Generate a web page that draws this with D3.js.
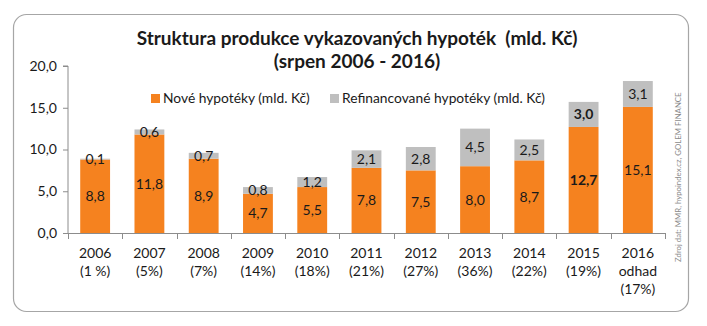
<!DOCTYPE html>
<html>
<head>
<meta charset="utf-8">
<title>Struktura produkce vykazovaných hypoték</title>
<script src="https://d3js.org/d3.v7.min.js"></script>
<style>
  body { margin: 0; background: #fff; font-family: Lato, "Open Sans", sans-serif; }
  svg { display: block; }
</style>
</head>
<body>
<script>
// data
var years = ["2006", "2007", "2008", "2009", "2010", "2011", "2012", "2013", "2014", "2015", "2016"];
var subLabels = [["(1 %)"], ["(5%)"], ["(7%)"], ["(14%)"], ["(18%)"], ["(21%)"], ["(27%)"], ["(36%)"], ["(22%)"], ["(19%)"], ["odhad", "(17%)"]];
var nove = [8.8, 11.8, 8.9, 4.7, 5.5, 7.8, 7.5, 8.0, 8.7, 12.7, 15.1];
var refi = [0.1, 0.6, 0.7, 0.8, 1.2, 2.1, 2.8, 4.5, 2.5, 3.0, 3.1];
var yTicks = [0, 5, 10, 15, 20];
var boldYear = "2015";

var W = 707, H = 326;
var orange = "#F5821F", grey = "#BFBFBF", txt = "#1a1a1a", axisCol = "#8c8c8c";
var fmt = function(v) { return d3.format(".1f")(v).replace(".", ","); };

var svg = d3.select("body").append("svg").attr("width", W).attr("height", H);

// outer frame
svg.append("rect").attr("x", 13.5).attr("y", 14.5).attr("width", 675).attr("height", 297)
  .attr("rx", 13).attr("fill", "#fff").attr("stroke", "#a6a6a6").attr("stroke-width", 1.2);

// title
svg.append("text").attr("x", 357).attr("y", 45).attr("text-anchor", "middle")
  .attr("font-size", 19).attr("font-weight", "bold").attr("fill", txt)
  .style("white-space", "pre")
  .text("Struktura produkce vykazovaných hypoték  (mld. Kč)");
svg.append("text").attr("x", 357).attr("y", 68).attr("text-anchor", "middle")
  .attr("font-size", 19).attr("font-weight", "bold").attr("fill", txt)
  .text("(srpen 2006 - 2016)");

var x = d3.scaleBand().domain(years).range([68, 665]).paddingInner(0.45).paddingOuter(0.225);
var y = d3.scaleLinear().domain([0, 20]).range([233, 66]);

// y axis
var yAxis = svg.append("g").attr("transform", "translate(68,0)")
  .call(d3.axisLeft(y).tickValues(yTicks).tickSize(5).tickPadding(6).tickFormat(fmt));
yAxis.select(".domain").attr("stroke", axisCol).attr("d", "M-5," + y(20) + "H0V" + y(0));
yAxis.selectAll(".tick line").attr("stroke", axisCol);
yAxis.selectAll(".tick text").attr("font-family", "Lato, sans-serif").attr("font-size", 14).attr("fill", txt);

// bars
var rows = years.map(function(yr, i) { return { yr: yr, n: nove[i], r: refi[i] }; });
var g = svg.append("g");
g.selectAll(".n").data(rows).enter().append("rect")
  .attr("x", function(d) { return x(d.yr); })
  .attr("width", x.bandwidth())
  .attr("y", function(d) { return y(d.n); })
  .attr("height", function(d) { return y(0) - y(d.n); })
  .attr("fill", orange);
g.selectAll(".r").data(rows).enter().append("rect")
  .attr("x", function(d) { return x(d.yr); })
  .attr("width", x.bandwidth())
  .attr("y", function(d) { return y(d.n + d.r); })
  .attr("height", function(d) { return y(d.n) - y(d.n + d.r); })
  .attr("fill", grey);

// value labels
g.selectAll(".ln").data(rows).enter().append("text")
  .attr("x", function(d) { return x(d.yr) + x.bandwidth() / 2; })
  .attr("y", function(d) { return y(d.n / 2); })
  .attr("dy", "0.36em").attr("text-anchor", "middle")
  .attr("font-size", 14).attr("fill", txt)
  .attr("font-weight", function(d) { return d.yr === boldYear ? "bold" : "normal"; })
  .text(function(d) { return fmt(d.n); });
g.selectAll(".lr").data(rows).enter().append("text")
  .attr("x", function(d) { return x(d.yr) + x.bandwidth() / 2; })
  .attr("y", function(d) { return y(d.n + d.r / 2); })
  .attr("dy", "0.36em").attr("text-anchor", "middle")
  .attr("font-size", 14).attr("fill", txt)
  .attr("font-weight", function(d) { return d.yr === boldYear ? "bold" : "normal"; })
  .text(function(d) { return fmt(d.r); });

// x axis with ticks between categories
svg.append("line").attr("x1", 68).attr("x2", 665).attr("y1", 233.5).attr("y2", 233.5).attr("stroke", axisCol);
var edges = years.map(function(yr) { return x(yr) - x.step() * x.paddingInner() / 2; });
edges.push(665);
svg.selectAll(".xt").data(edges).enter().append("line")
  .attr("x1", function(d) { return Math.round(d) + 0.5; }).attr("x2", function(d) { return Math.round(d) + 0.5; })
  .attr("y1", 233).attr("y2", 239).attr("stroke", axisCol);

var xl = svg.selectAll(".xl").data(years).enter().append("text")
  .attr("x", function(d) { return x(d) + x.bandwidth() / 2; })
  .attr("y", 258).attr("text-anchor", "middle").attr("font-size", 14).attr("fill", txt);
xl.append("tspan").attr("x", function(d) { return x(d) + x.bandwidth() / 2; }).text(function(d) { return d; });
xl.each(function(d, i) {
  var t = d3.select(this);
  subLabels[i].forEach(function(s) {
    t.append("tspan").attr("x", x(d) + x.bandwidth() / 2).attr("dy", 18).text(s);
  });
});

// legend
var leg = svg.append("g").attr("font-size", 13.8).attr("fill", txt);
leg.append("rect").attr("x", 151).attr("y", 94).attr("width", 9).attr("height", 9).attr("fill", orange);
leg.append("text").attr("x", 163).attr("y", 103).text("Nové hypotéky (mld. Kč)");
leg.append("rect").attr("x", 330).attr("y", 94).attr("width", 9).attr("height", 9).attr("fill", grey);
leg.append("text").attr("x", 342).attr("y", 103).text("Refinancované hypotéky (mld. Kč)");

// source note
svg.append("text").attr("transform", "translate(681,262) rotate(-90)")
  .attr("font-size", 7.8).attr("fill", "#8a8a8a")
  .text("Zdroj dat: MMR, hypoindex.cz, GOLEM FINANCE");
</script>
</body>
</html>
